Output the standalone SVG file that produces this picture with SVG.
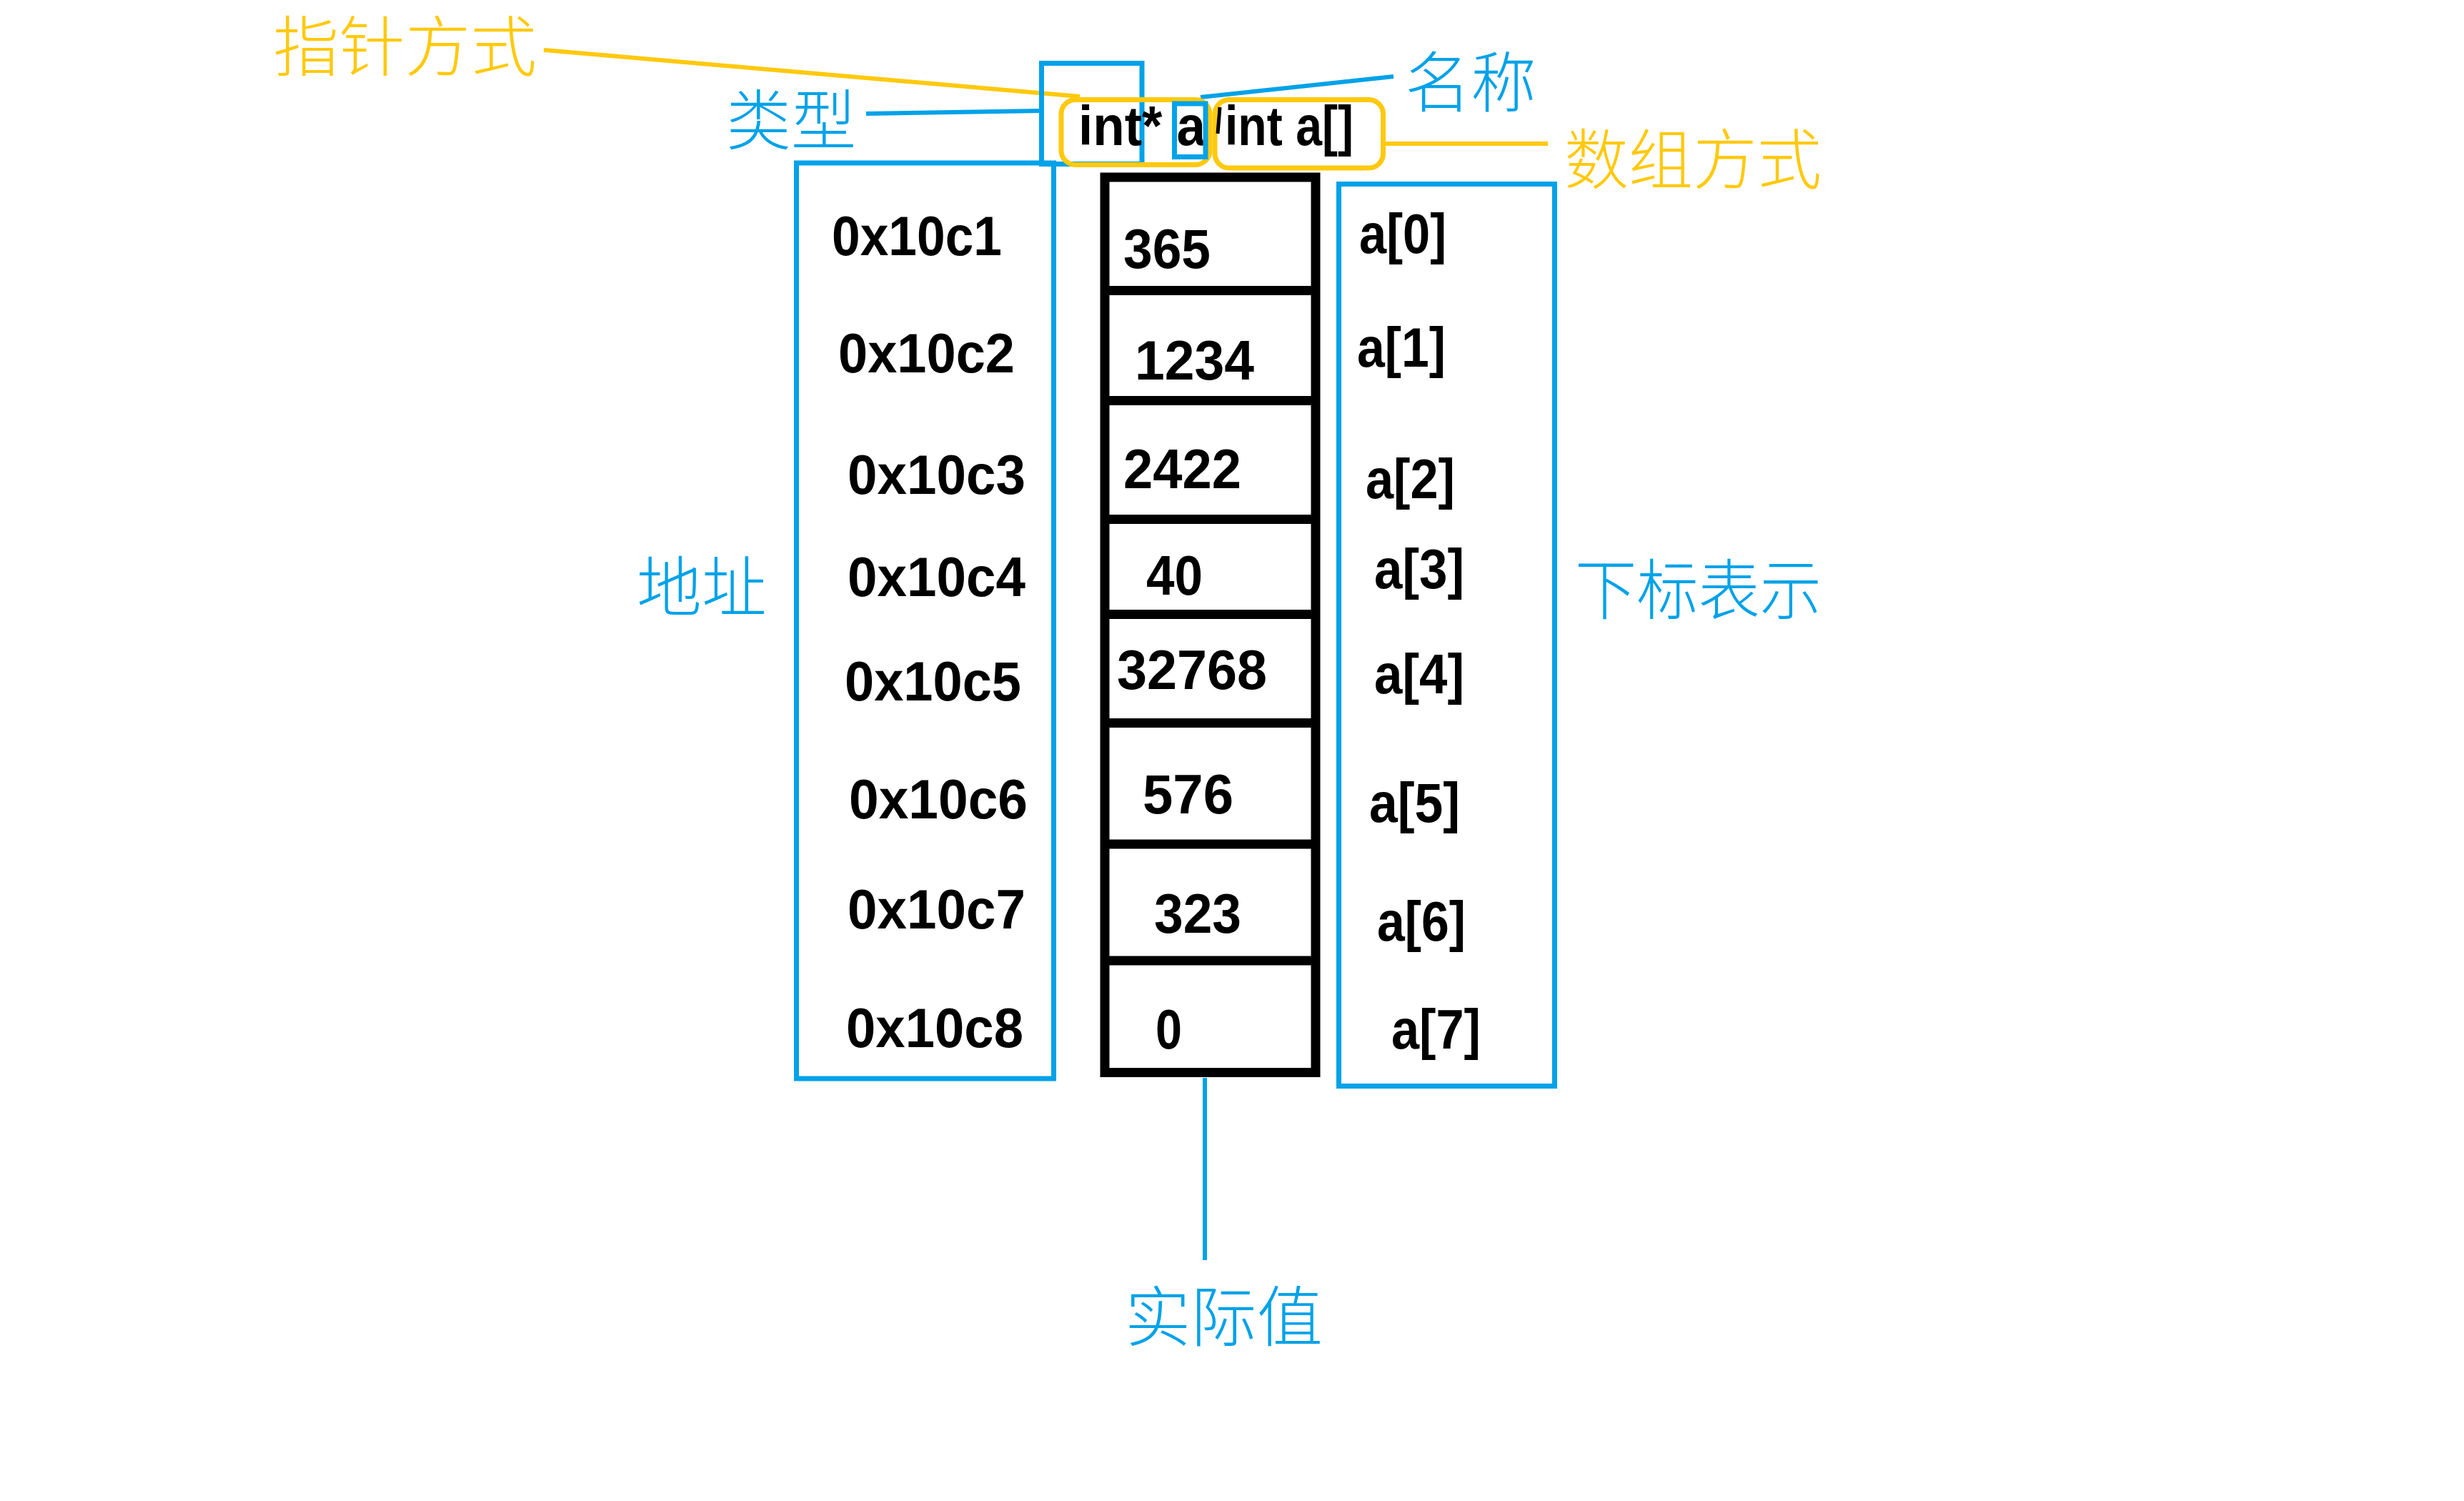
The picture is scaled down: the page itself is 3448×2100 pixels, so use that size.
<svg xmlns="http://www.w3.org/2000/svg" width="3448" height="2100" viewBox="0 0 3448 2100">
<style>
.bg{fill:#ffffff}
.blue{fill:none;stroke:#00A2E8;stroke-width:7}
.yel{fill:none;stroke:#FFC90E;stroke-width:7}
.blk{fill:none;stroke:#000000;stroke-width:13}
.cn-b{fill:#00A2E8;font-family:"Noto Sans CJK SC","Noto Sans",sans-serif;font-size:92px;font-weight:300}
.cn-y{fill:#FFC90E;font-family:"Noto Sans CJK SC","Noto Sans",sans-serif;font-size:92px;font-weight:300}
.t{fill:#000000;font-family:"Liberation Sans",Arial,sans-serif;font-size:77px;font-weight:bold}
.lb{stroke:#00A2E8;stroke-width:6;fill:none}
.ly{stroke:#FFC90E;stroke-width:6;fill:none}
</style>
<rect class="bg" x="0" y="0" width="3448" height="2100"/>

<g id="connectors">
  <line class="ly" x1="761" y1="70" x2="1511" y2="135"/>
  <line class="lb" x1="1212" y1="159" x2="1457" y2="155"/>
  <line class="lb" x1="1680" y1="136" x2="1950" y2="107"/>
  <line class="ly" x1="1937" y1="201" x2="2166" y2="201" stroke-width="7"/>
  <line class="lb" x1="1686" y1="1508" x2="1686" y2="1763"/>
</g>

<g id="label-pointer">
  <text class="cn-y" x="382" y="99" textLength="369" lengthAdjust="spacingAndGlyphs">指针方式</text>
</g>
<g id="label-type">
  <text class="cn-b" x="1016" y="202" textLength="182" lengthAdjust="spacingAndGlyphs">类型</text>
</g>
<g id="label-name">
  <text class="cn-b" x="1966" y="149" textLength="184" lengthAdjust="spacingAndGlyphs">名称</text>
</g>
<g id="label-array">
  <text class="cn-y" x="2189" y="257" textLength="360" lengthAdjust="spacingAndGlyphs">数组方式</text>
</g>
<g id="label-address">
  <text class="cn-b" x="891" y="855" textLength="182" lengthAdjust="spacingAndGlyphs">地址</text>
</g>
<g id="label-index">
  <text class="cn-b" x="2204" y="859" textLength="345" lengthAdjust="spacingAndGlyphs">下标表示</text>
</g>
<g id="label-value">
  <text class="cn-b" x="1574" y="1876" textLength="277" lengthAdjust="spacingAndGlyphs">实际值</text>
</g>

<g id="type-box">
  <rect class="blue" x="1457.5" y="88.5" width="140.5" height="141"/>
</g>
<g id="decl-pointer">
  <rect class="yel" x="1485" y="139.5" width="208" height="91" rx="20" ry="20"/>
  <text class="t" x="1509" y="203" textLength="178" lengthAdjust="spacingAndGlyphs">int* a</text>
</g>
<g id="name-box">
  <rect class="blue" x="1643.5" y="145" width="43.5" height="74.5"/>
</g>
<g id="decl-array">
  <rect class="yel" x="1700" y="139.5" width="235.5" height="95.5" rx="20" ry="20"/>
  <line x1="1707" y1="150" x2="1704" y2="187" stroke="#000000" stroke-width="5"/>
  <text class="t" x="1714" y="203" textLength="180" lengthAdjust="spacingAndGlyphs">int a[]</text>
</g>

<g id="address-box">
  <rect class="blue" x="1114.5" y="228" width="360" height="1281"/>
  <text class="t" x="1164" y="357" textLength="238" lengthAdjust="spacingAndGlyphs">0x10c1</text>
  <text class="t" x="1173" y="521" textLength="247" lengthAdjust="spacingAndGlyphs">0x10c2</text>
  <text class="t" x="1186" y="691" textLength="249" lengthAdjust="spacingAndGlyphs">0x10c3</text>
  <text class="t" x="1186" y="834" textLength="249" lengthAdjust="spacingAndGlyphs">0x10c4</text>
  <text class="t" x="1182" y="980" textLength="247" lengthAdjust="spacingAndGlyphs">0x10c5</text>
  <text class="t" x="1188" y="1145" textLength="250" lengthAdjust="spacingAndGlyphs">0x10c6</text>
  <text class="t" x="1186" y="1299" textLength="249" lengthAdjust="spacingAndGlyphs">0x10c7</text>
  <text class="t" x="1184" y="1465" textLength="248" lengthAdjust="spacingAndGlyphs">0x10c8</text>
</g>

<g id="value-array">
  <rect class="blk" x="1546" y="248" width="295" height="1252.5"/>
  <line class="blk" x1="1546" y1="406.5" x2="1841" y2="406.5"/>
  <line class="blk" x1="1546" y1="560.5" x2="1841" y2="560.5"/>
  <line class="blk" x1="1546" y1="726.5" x2="1841" y2="726.5"/>
  <line class="blk" x1="1546" y1="859.5" x2="1841" y2="859.5"/>
  <line class="blk" x1="1546" y1="1011.5" x2="1841" y2="1011.5"/>
  <line class="blk" x1="1546" y1="1181" x2="1841" y2="1181"/>
  <line class="blk" x1="1546" y1="1344" x2="1841" y2="1344"/>
  <text class="t" x="1572" y="375" textLength="122" lengthAdjust="spacingAndGlyphs">365</text>
  <text class="t" x="1588" y="531" textLength="167" lengthAdjust="spacingAndGlyphs">1234</text>
  <text class="t" x="1572" y="683" textLength="165" lengthAdjust="spacingAndGlyphs">2422</text>
  <text class="t" x="1604" y="832" textLength="79" lengthAdjust="spacingAndGlyphs">40</text>
  <text class="t" x="1563" y="964" textLength="210" lengthAdjust="spacingAndGlyphs">32768</text>
  <text class="t" x="1599" y="1138" textLength="127" lengthAdjust="spacingAndGlyphs">576</text>
  <text class="t" x="1615" y="1305" textLength="122" lengthAdjust="spacingAndGlyphs">323</text>
  <text class="t" x="1617" y="1467" textLength="37" lengthAdjust="spacingAndGlyphs">0</text>
</g>

<g id="index-box">
  <rect class="blue" x="1873.5" y="257.5" width="302" height="1262"/>
  <text class="t" x="1902" y="354" textLength="122" lengthAdjust="spacingAndGlyphs">a[0]</text>
  <text class="t" x="1899" y="513" textLength="124" lengthAdjust="spacingAndGlyphs">a[1]</text>
  <text class="t" x="1911" y="697" textLength="125" lengthAdjust="spacingAndGlyphs">a[2]</text>
  <text class="t" x="1923" y="823" textLength="126" lengthAdjust="spacingAndGlyphs">a[3]</text>
  <text class="t" x="1923" y="970" textLength="126" lengthAdjust="spacingAndGlyphs">a[4]</text>
  <text class="t" x="1916" y="1150" textLength="127" lengthAdjust="spacingAndGlyphs">a[5]</text>
  <text class="t" x="1927" y="1316" textLength="124" lengthAdjust="spacingAndGlyphs">a[6]</text>
  <text class="t" x="1947" y="1467" textLength="125" lengthAdjust="spacingAndGlyphs">a[7]</text>
</g>
</svg>
